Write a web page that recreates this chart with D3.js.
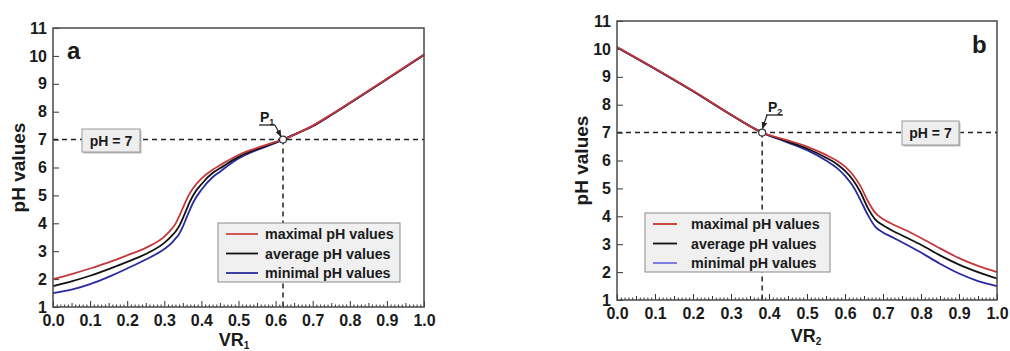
<!DOCTYPE html>
<html><head><meta charset="utf-8">
<script src="https://cdn.jsdelivr.net/npm/d3@7"></script>
<style>
body{margin:0;background:#fff;}
text{font-family:"Liberation Sans",Arial,sans-serif;font-weight:bold;fill:#1a1a1a;}
</style></head>
<body><svg id="c" width="1010" height="351"></svg>
<script>
// ---- data ----
const xTicks = [0,0.1,0.2,0.3,0.4,0.5,0.6,0.7,0.8,0.9,1.0];
const yTicks = [1,2,3,4,5,6,7,8,9,10,11];
const seriesNames = ["maximal pH values","average pH values","minimal pH values"];

// panel a (VR1)
const vr1 = [0,0.05,0.1,0.15,0.2,0.25,0.3,0.32,0.33,0.34,0.35,0.36,0.37,0.38,0.4,0.43,0.45,0.5,0.55,0.6,0.62,0.66,0.7,0.75,0.8,0.9,1.0];
const aMax = [2.0,2.18,2.38,2.6,2.85,3.12,3.52,3.8,3.98,4.25,4.55,4.85,5.1,5.3,5.6,5.92,6.08,6.45,6.7,6.92,7.0,7.24,7.5,7.9,8.32,9.18,10.05];
const aAvg = [1.75,1.92,2.12,2.36,2.62,2.9,3.3,3.55,3.7,3.9,4.18,4.5,4.8,5.05,5.4,5.8,5.97,6.38,6.66,6.9,7.0,7.24,7.49,7.89,8.31,9.17,10.04];
const aMin = [1.5,1.62,1.82,2.08,2.38,2.7,3.08,3.3,3.45,3.62,3.88,4.2,4.52,4.8,5.2,5.65,5.85,6.32,6.63,6.88,7.0,7.23,7.48,7.88,8.3,9.16,10.03];
const p1 = {x:0.62, y:7};

// panel b (VR2)
const vr2 = [0,0.1,0.2,0.3,0.382,0.45,0.5,0.55,0.58,0.6,0.62,0.64,0.66,0.68,0.7,0.72,0.76,0.8,0.85,0.9,0.95,1.0];
const bMax = [10.07,9.3,8.5,7.65,7.0,6.72,6.5,6.2,5.98,5.78,5.5,5.1,4.55,4.12,3.9,3.75,3.5,3.22,2.85,2.5,2.22,2.0];
const bAvg = [10.06,9.29,8.49,7.64,7.0,6.68,6.43,6.1,5.86,5.63,5.32,4.88,4.3,3.88,3.68,3.52,3.25,2.98,2.6,2.27,2.0,1.77];
const bMin = [10.05,9.28,8.48,7.63,7.0,6.64,6.37,6.0,5.72,5.45,5.1,4.6,4.05,3.62,3.42,3.28,3.0,2.7,2.3,1.95,1.68,1.5];
const p2 = {x:0.382, y:7};

const svg = d3.select("#c");
svg.append("rect").attr("width",1010).attr("height",351).attr("fill","#fff");
const defs = svg.append("defs");
defs.append("marker").attr("id","arr").attr("viewBox","0 0 10 10").attr("refX",9).attr("refY",5)
  .attr("markerWidth",6).attr("markerHeight",6).attr("orient","auto")
  .append("path").attr("d","M0,1 L10,5 L0,9 Z").attr("fill","#222");

function panel(cfg){
  const g = svg.append("g");
  const x = d3.scaleLinear().domain([0,1]).range([cfg.x0,cfg.x1]);
  const y = d3.scaleLinear().domain([1,11]).range([cfg.y1,cfg.y0]);

  // minor x ticks
  const minor = d3.range(0,101).map(d=>d/100).filter(d=>Math.round(d*100)%10!==0);
  const axMinor = d3.axisBottom(x).tickValues(minor).tickFormat("").tickSizeInner(0).tickSizeOuter(0);
  const gm = g.append("g").attr("transform",`translate(0,${cfg.y1})`).call(axMinor);
  gm.select(".domain").remove();
  gm.selectAll(".tick line").attr("y2", d=> Math.round(d*100)%5===0 ? -4 : -2.5).attr("stroke","#333");

  const ax = d3.axisBottom(x).tickValues(xTicks).tickFormat(d3.format(".1f")).tickSizeInner(-6).tickSizeOuter(0).tickPadding(8);
  const gx = g.append("g").attr("transform",`translate(0,${cfg.y1})`).call(ax);
  gx.select(".domain").remove();
  gx.selectAll("text").attr("font-size",16).attr("font-family","Liberation Sans, Arial").attr("font-weight","bold").attr("fill","#1a1a1a");
  gx.selectAll(".tick line").attr("stroke","#333");

  const ay = d3.axisLeft(y).tickValues(yTicks).tickFormat(d3.format("d")).tickSizeInner(-6).tickSizeOuter(0).tickPadding(6);
  const gy = g.append("g").attr("transform",`translate(${cfg.x0},0)`).call(ay);
  gy.select(".domain").remove();
  gy.selectAll("text").attr("font-size",16).attr("font-family","Liberation Sans, Arial").attr("font-weight","bold").attr("fill","#1a1a1a");
  gy.selectAll(".tick line").attr("stroke","#333");

  // dashed reference lines
  g.append("line").attr("x1",cfg.x0).attr("x2",cfg.x1).attr("y1",y(7)).attr("y2",y(7))
    .attr("stroke","#222").attr("stroke-width",1.5).attr("stroke-dasharray","5,4");
  g.append("line").attr("x1",x(cfg.p.x)).attr("x2",x(cfg.p.x)).attr("y1",y(7)).attr("y2",cfg.y1)
    .attr("stroke","#222").attr("stroke-width",1.5).attr("stroke-dasharray","5,4");

  // curves
  const colors = cfg.colors;
  const sets = [cfg.min, cfg.avg, cfg.max];
  const cols = [colors[2], colors[1], colors[0]];
  sets.forEach((vals,i)=>{
    const line = d3.line().x((d,j)=>x(cfg.xs[j])).y(d=>y(d)).curve(d3.curveMonotoneX);
    g.append("path").attr("d",line(vals)).attr("fill","none").attr("stroke",cols[i]).attr("stroke-width",1.8);
  });

  // frame
  g.append("rect").attr("x",cfg.x0).attr("y",cfg.y0).attr("width",cfg.x1-cfg.x0).attr("height",cfg.y1-cfg.y0)
    .attr("fill","none").attr("stroke","#4a4a4a").attr("stroke-width",1.5);

  // pH = 7 box
  const b = cfg.box;
  g.append("rect").attr("x",b.x+1.5).attr("y",b.y+1.5).attr("width",b.w).attr("height",b.h).attr("fill","#bbb");
  g.append("rect").attr("x",b.x).attr("y",b.y).attr("width",b.w).attr("height",b.h).attr("fill","#eeeeee").attr("stroke","#999").attr("stroke-width",1);
  g.append("text").attr("x",b.x+b.w/2).attr("y",b.y+b.h/2+5).attr("text-anchor","middle").attr("font-size",14).text("pH = 7");

  // point & label
  const L = cfg.lab;
  const t = g.append("text").attr("x",L.tx).attr("y",L.ty).attr("font-size",14);
  t.append("tspan").text("P");
  t.append("tspan").attr("font-size",9).attr("dy",3).text(L.sub);
  g.append("line").attr("x1",L.u1).attr("x2",L.u2).attr("y1",L.uy).attr("y2",L.uy).attr("stroke","#222").attr("stroke-width",1.3);
  g.append("line").attr("x1",L.ax).attr("y1",L.uy).attr("x2",L.ex).attr("y2",L.ey).attr("stroke","#222").attr("stroke-width",1.2).attr("marker-end","url(#arr)");
  g.append("circle").attr("cx",x(cfg.p.x)).attr("cy",y(cfg.p.y)).attr("r",3.5).attr("fill","#fff").attr("stroke","#333").attr("stroke-width",1.2);

  // legend
  const lg = cfg.leg;
  g.append("rect").attr("x",lg.x).attr("y",lg.y).attr("width",lg.w).attr("height",lg.h).attr("fill","#f0f0f0").attr("stroke","#8a8a8a").attr("stroke-width",1);
  seriesNames.forEach((n,i)=>{
    const yy = lg.y + 11 + i*19.5;
    g.append("line").attr("x1",lg.x+8).attr("x2",lg.x+lg.lw).attr("y1",yy).attr("y2",yy).attr("stroke",cfg.legColors[i]).attr("stroke-width",1.8);
    g.append("text").attr("x",lg.x+lg.tx).attr("y",yy+5).attr("font-size",14.3).text(n);
  });

  // panel letter
  g.append("text").attr("x",cfg.letter.x).attr("y",cfg.letter.y).attr("font-size",24).text(cfg.letter.t);

  // axis titles
  const xt = g.append("text").attr("x",cfg.xtX).attr("y",cfg.xtY).attr("text-anchor","middle").attr("font-size",18);
  xt.append("tspan").text("VR");
  xt.append("tspan").attr("font-size",10).attr("dy",3).text(cfg.xsub);
  g.append("text").attr("transform",`translate(${cfg.ytX},${(cfg.y0+cfg.y1)/2}) rotate(-90)`).attr("text-anchor","middle").attr("font-size",19).text("pH values");
}

panel({x0:53,x1:424,y0:28,y1:307, xs:vr1, max:aMax, avg:aAvg, min:aMin, p:p1,
  colors:["#c4383c","#111","#2a2aa0"], legColors:["#d04848","#111","#2a2aa0"],
  box:{x:82,y:129,w:58,h:23},
  lab:{tx:260,ty:122,sub:"1",u1:259,u2:275,uy:125,ax:275,ex:281,ey:136.5},
  leg:{x:218,y:223,w:182,h:59,lw:40,tx:47},
  letter:{x:67,y:59,t:"a"}, xtX:234, xtY:346, xsub:"1", ytX:25});

panel({x0:617,x1:997,y0:21,y1:300, xs:vr2, max:bMax, avg:bAvg, min:bMin, p:p2,
  colors:["#c4383c","#111","#2a2aa0"], legColors:["#cc3030","#111","#7070e0"],
  box:{x:902,y:121,w:57,h:24},
  lab:{tx:768,ty:112,sub:"2",u1:766,u2:783,uy:115,ax:767,ex:762.5,ey:128.5},
  leg:{x:645,y:213,w:185,h:59,lw:32,tx:46},
  letter:{x:972,y:53,t:"b"}, xtX:806, xtY:342, xsub:"2", ytX:588});
</script></body></html>
